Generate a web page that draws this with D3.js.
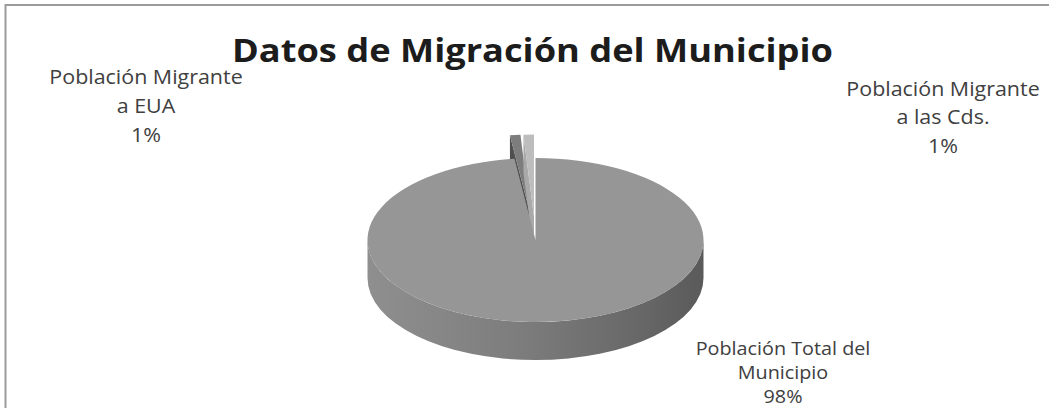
<!DOCTYPE html>
<html>
<head>
<meta charset="utf-8">
<script src="https://cdn.jsdelivr.net/npm/d3@7"></script>
<style>
  html, body { margin: 0; padding: 0; background: #ffffff; }
  svg { display: block; }
</style>
</head>
<body>
<svg id="chart" width="1049" height="408"></svg>
<script>
// ---- data ----
const title = "Datos de Migración del Municipio";
const categories = ["Población Total del Municipio", "Población Migrante a EUA", "Población Migrante a las Cds."];
const values = [98, 1, 1];
const labelLines = [
  ["Población Total del", "Municipio"],
  ["Población Migrante", "a EUA"],
  ["Población Migrante", "a las Cds."]
];

// ---- styles / layout ----
const W = 1049, H = 408;
const cx = 535.5, cy = 240, rx = 168, ry = 82, depth = 38;
const explodeBy = [0, 48, 48];
const topColors = ["#969696", "#7d7d7d", "#bdbdbd"];
const wallColors = ["#7a7a7a", "#4f4f4f", "#a9a9a9"];
const labelPos = [[783, 355], [146, 84], [943, 96]];
const labelGap = [24, 29, 28.5];
const labelSize = [18.5, 19.5, 19.5];
const labelStretch = [1.07, 1.1, 1.1];

const svg = d3.select("#chart");

// frame
svg.append("rect")
  .attr("x", 5.5).attr("y", 5).attr("width", 1200).attr("height", 600)
  .attr("fill", "none").attr("stroke", "#9c9c9c").attr("stroke-width", 2);

const defs = svg.append("defs");
const grad = defs.append("linearGradient").attr("id", "sideGrad")
  .attr("gradientUnits", "userSpaceOnUse")
  .attr("x1", cx - rx).attr("x2", cx + rx).attr("y1", 0).attr("y2", 0);
[[0, "#8f8f8f"], [0.45, "#7d7d7d"], [0.8, "#686868"], [1, "#5a5a5a"]].forEach(([o, c]) =>
  grad.append("stop").attr("offset", o).attr("stop-color", c));

const pie = d3.pie().sort(null).value(d => d);
const arcs = pie(values);
const total = d3.sum(values);
const pct = d3.format(".0%");

function offsetOf(i) {
  const a = (arcs[i].startAngle + arcs[i].endAngle) / 2;
  const d = explodeBy[i];
  return [d * Math.sin(a), -d * (ry / rx) * Math.cos(a)];
}
function pt(a, off, z) {
  return [cx + off[0] + rx * Math.sin(a), cy + off[1] - ry * Math.cos(a) + (z || 0)];
}
function topPath(arc, off) {
  const c = [cx + off[0], cy + off[1]];
  const p0 = pt(arc.startAngle, off), p1 = pt(arc.endAngle, off);
  const large = (arc.endAngle - arc.startAngle) > Math.PI ? 1 : 0;
  return `M${c[0]},${c[1]}L${p0[0]},${p0[1]}A${rx},${ry} 0 ${large} 1 ${p1[0]},${p1[1]}Z`;
}
function outerWall(arc, off) {
  const b0 = Math.max(arc.startAngle, Math.PI / 2);
  const b1 = Math.min(arc.endAngle, 3 * Math.PI / 2);
  if (b1 <= b0) return null;
  const p0 = pt(b0, off), p1 = pt(b1, off);
  const q0 = pt(b0, off, depth), q1 = pt(b1, off, depth);
  const large = (b1 - b0) > Math.PI ? 1 : 0;
  return `M${p0[0]},${p0[1]}A${rx},${ry} 0 ${large} 1 ${p1[0]},${p1[1]}` +
         `L${q1[0]},${q1[1]}A${rx},${ry} 0 ${large} 0 ${q0[0]},${q0[1]}Z`;
}
function radialWall(a, off) {
  const c = [cx + off[0], cy + off[1]];
  const p = pt(a, off);
  return `M${c[0]},${c[1]}L${p[0]},${p[1]}L${p[0]},${p[1] + depth}L${c[0]},${c[1] + depth}Z`;
}

const g = svg.append("g");
// draw exploded back slices first, then the main slice
const order = [1, 2, 0];
order.forEach(i => {
  const arc = arcs[i];
  const off = offsetOf(i);
  if (Math.sin(arc.startAngle) < -1e-6)
    g.append("path").attr("d", radialWall(arc.startAngle, off)).attr("fill", wallColors[i]);
  if (Math.sin(arc.endAngle) > 1e-6)
    g.append("path").attr("d", radialWall(arc.endAngle, off)).attr("fill", wallColors[i]);
  const ow = outerWall(arc, off);
  if (ow) g.append("path").attr("d", ow).attr("fill", i === 0 ? "url(#sideGrad)" : wallColors[i]);
  g.append("path").attr("d", topPath(arc, off)).attr("fill", topColors[i]);
});

// title (horizontally stretched like the reference)
svg.append("text")
  .attr("transform", "translate(532.5,62) scale(1.15,1)")
  .attr("text-anchor", "middle")
  .attr("font-family", "'Open Sans', sans-serif")
  .attr("font-weight", "bold")
  .attr("font-size", 31.5)
  .attr("fill", "#1c1c1c")
  .text(title);

// data labels
arcs.forEach((arc, i) => {
  const t = svg.append("text")
    .attr("transform", `translate(${labelPos[i][0]},${labelPos[i][1]}) scale(${labelStretch[i]},1)`)
    .attr("text-anchor", "middle")
    .attr("font-family", "'Open Sans', sans-serif")
    .attr("font-size", labelSize[i])
    .attr("fill", "#404040");
  const lines = labelLines[i].concat([pct(values[i] / total)]);
  lines.forEach((ln, k) => {
    t.append("tspan").attr("x", 0).attr("y", k * labelGap[i]).text(ln);
  });
});
</script>
</body>
</html>
